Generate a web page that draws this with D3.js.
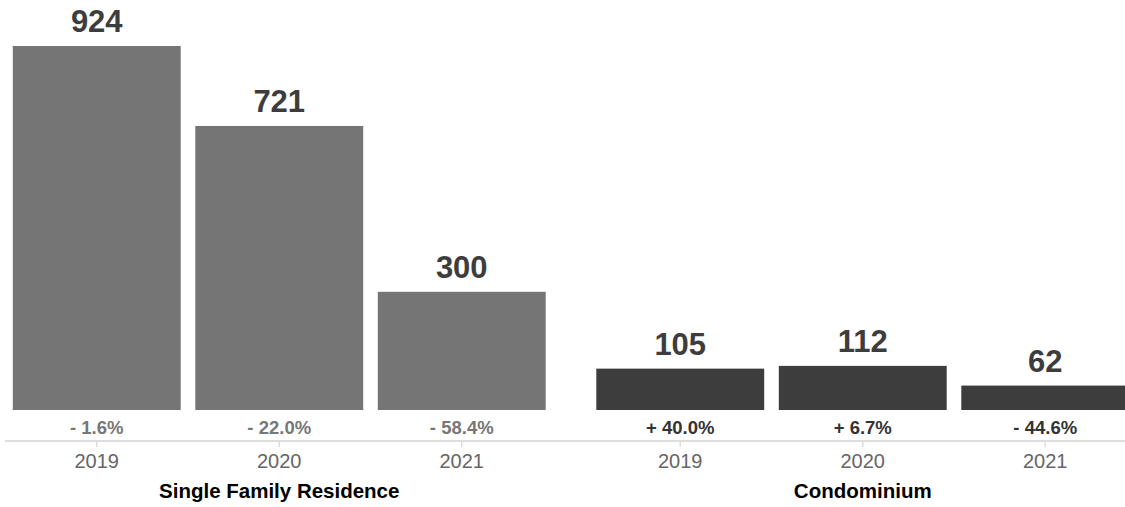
<!DOCTYPE html>
<html>
<head>
<meta charset="utf-8">
<script src="https://cdn.jsdelivr.net/npm/d3@7"></script>
<style>
  html, body { margin: 0; padding: 0; background: #fff; }
  svg { display: block; font-family: "Helvetica Neue", Helvetica, "Liberation Sans", Arial, sans-serif; }
</style>
</head>
<body>
<svg id="chart" width="1125" height="507"></svg>
<script>
// Sales counts by property type and year, with year-over-year change
const groups = ["Single Family Residence", "Condominium"];
const years = ["2019", "2020", "2021"];
const sfrValues = [924, 721, 300];
const condoValues = [105, 112, 62];
const sfrChange = ["- 1.6%", "- 22.0%", "- 58.4%"];
const condoChange = ["+ 40.0%", "+ 6.7%", "- 44.6%"];

const barColors = { "Single Family Residence": "#757575", "Condominium": "#3d3d3d" };
const changeColors = { "Single Family Residence": "#777777", "Condominium": "#333333" };

const rows = [];
years.forEach((y, i) => rows.push({ group: groups[0], year: y, value: sfrValues[i], change: sfrChange[i] }));
years.forEach((y, i) => rows.push({ group: groups[1], year: y, value: condoValues[i], change: condoChange[i] }));

const svg = d3.select("#chart");
const baseY = 410;
const axisY = 441;

const x0 = d3.scaleBand().domain(groups).range([5.5, 1136.5]).paddingInner(0.0617);
const x1 = d3.scaleBand().domain(years).range([0, x0.bandwidth()]).paddingInner(0.08).paddingOuter(0.04);
const y = d3.scaleLinear().domain([0, 924]).range([baseY, 46]);

const g = svg.append("g");

// bars
g.selectAll("rect.bar").data(rows).join("rect")
  .attr("class", "bar")
  .attr("x", d => x0(d.group) + x1(d.year))
  .attr("y", d => y(d.value))
  .attr("width", x1.bandwidth())
  .attr("height", d => baseY - y(d.value))
  .attr("fill", d => barColors[d.group]);

// value labels above bars
g.selectAll("text.val").data(rows).join("text")
  .attr("class", "val")
  .attr("x", d => x0(d.group) + x1(d.year) + x1.bandwidth() / 2)
  .attr("y", d => y(d.value) - 14)
  .attr("text-anchor", "middle")
  .attr("font-size", 31)
  .attr("font-weight", "bold")
  .attr("fill", "#3d3d3d")
  .text(d => d.value);

// change labels below bars
g.selectAll("text.chg").data(rows).join("text")
  .attr("class", "chg")
  .attr("x", d => x0(d.group) + x1(d.year) + x1.bandwidth() / 2)
  .attr("y", 434)
  .attr("text-anchor", "middle")
  .attr("font-size", 18.5)
  .attr("font-weight", "bold")
  .attr("fill", d => changeColors[d.group])
  .text(d => d.change);

// baseline axis
g.append("line")
  .attr("x1", 5).attr("x2", 1125)
  .attr("y1", axisY).attr("y2", axisY)
  .attr("stroke", "#dddddd").attr("stroke-width", 2);

// year axes, one per group
groups.forEach(grp => {
  const ax = g.append("g")
    .attr("transform", `translate(${x0(grp)},${axisY})`)
    .call(d3.axisBottom(x1).tickSize(6).tickPadding(7));
  ax.select(".domain").remove();
  ax.selectAll(".tick line").attr("stroke", "#dddddd").attr("stroke-width", 1.5);
  ax.selectAll(".tick text")
    .attr("font-size", 20)
    .attr("font-family", null)
    .attr("fill", "#666666");
});

// group labels
g.selectAll("text.grp").data(groups).join("text")
  .attr("class", "grp")
  .attr("x", d => x0(d) + x0.bandwidth() / 2)
  .attr("y", 498)
  .attr("text-anchor", "middle")
  .attr("font-size", 20.5)
  .attr("font-weight", "bold")
  .attr("fill", "#000")
  .text(d => d);
</script>
</body>
</html>
